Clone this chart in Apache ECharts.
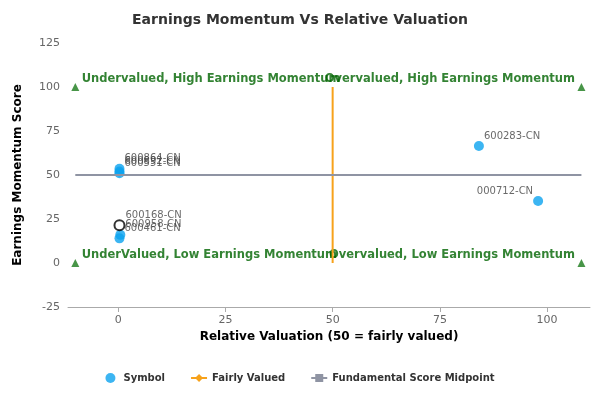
<!DOCTYPE html><html><head><meta charset="utf-8"><script src="https://cdn.jsdelivr.net/npm/echarts@6/dist/echarts.min.js"></script></head><body style="margin:0"><div id="c" style="width:600px;height:400px"></div><script>
const symbols=['600864-CN','600892-CN','600551-CN','600958-CN','600461-CN','600283-CN','000712-CN'];
const relVal=[0.3,0.3,0.3,0.5,0.3,84.1,97.9];
const momentum=[53.5,52,51,16,14,66.5,35.2];
const hiSymbol='600168-CN', hiVal=0.3, hiMom=21.5;
const fairX=[50,50], fairY=[0,100];
const midX=[-10,108], midY=[50,50];
const corners=[[-10,100],[108,100],[-10,0],[108,0]];
const cornerLabels=[['Undervalued, High Earnings Momentum',-8.5,100,'left'],['Overvalued, High Earnings Momentum',106.5,100,'right'],['UnderValued, Low Earnings Momentum',-8.5,0,'left'],['Overvalued, Low Earnings Momentum',106.5,0,'right']];
const c=echarts.init(document.getElementById('c'));
const F='DejaVu Sans';
c.setOption({animation:false,textStyle:{fontFamily:F},
title:{text:'Earnings Momentum Vs Relative Valuation',left:'center',top:8,textStyle:{fontSize:14,fontWeight:'bold',color:'#333',fontFamily:F}},
legend:{bottom:12,itemGap:25,itemWidth:16,itemHeight:10,textStyle:{fontSize:10,fontWeight:'bold',color:'#333'},data:['Symbol','Fairly Valued','Fundamental Score Midpoint']},
grid:{left:68,right:10,top:43,bottom:93},
xAxis:{type:'value',min:-11.7,max:110,interval:25,name:'Relative Valuation (50 = fairly valued)',nameLocation:'middle',nameGap:24,nameTextStyle:{fontSize:12,fontWeight:'bold',color:'#000'},
 axisLabel:{color:'#666',fontSize:11,customValues:[0,25,50,75,100]},axisTick:{customValues:[0,25,50,75,100]},splitLine:{show:false},axisLine:{onZero:false,lineStyle:{color:'#aaa'}}},
yAxis:{type:'value',min:-25,max:125,interval:25,name:'Earnings Momentum Score',nameLocation:'middle',nameGap:44,nameTextStyle:{fontSize:12,fontWeight:'bold',color:'#000'},axisLabel:{color:'#666',fontSize:11},axisTick:{show:false},splitLine:{show:false},axisLine:{show:false,onZero:false}},
series:[
{name:'Symbol',type:'scatter',symbolSize:10,itemStyle:{color:'#0ba3ef'},data:relVal.map((v,i)=>{const d={value:[v,momentum[i],symbols[i]]};if(symbols[i]==='000712-CN')d.label={position:'left',offset:[0,-10]};return d;}),
 label:{show:true,position:'right',distance:0,offset:[0,-10],formatter:p=>p.data.value[2],fontSize:10,color:'#444'}},
{name:'Highlighted',type:'scatter',symbolSize:10,itemStyle:{color:'#fff',borderColor:'#000',borderWidth:2},data:[[hiVal,hiMom,hiSymbol]],
 label:{show:true,position:'right',distance:0,offset:[0,-10],formatter:p=>p.data[2],fontSize:10,color:'#444'}},
{name:'Fairly Valued',type:'line',symbol:'diamond',showSymbol:false,itemStyle:{color:'#f7a21b'},lineStyle:{color:'#f7a21b',width:2},data:fairX.map((x,i)=>[x,fairY[i]])},
{name:'Fundamental Score Midpoint',type:'line',symbol:'rect',showSymbol:false,itemStyle:{color:'#8f94a3'},lineStyle:{color:'#8f94a3',width:2},data:midX.map((x,i)=>[x,midY[i]])},
{name:'corners',type:'scatter',symbol:'triangle',symbolSize:8,itemStyle:{color:'#1a7a1a'},data:corners},
{name:'cornerText',type:'scatter',symbolSize:0,data:cornerLabels.map(d=>({value:[d[1],d[2],d[0]],label:{align:d[3]}})),
 label:{show:true,position:'top',distance:2,formatter:p=>p.data.value[2],fontSize:11.5,fontWeight:'bold',color:'#006400'}}
]});
</script></body></html>
